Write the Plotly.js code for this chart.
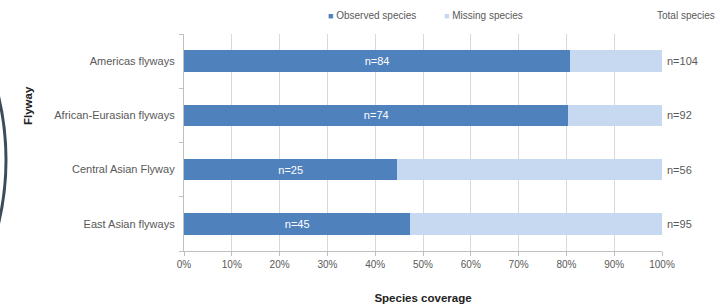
<!DOCTYPE html>
<html>
<head>
<meta charset="utf-8">
<script src="https://cdn.plot.ly/plotly-3.0.1.min.js"></script>
<style>html,body{margin:0;padding:0;background:#fff;}#chart{width:727px;height:304px;}</style>
</head>
<body>
<div id="chart"></div>
<script>
const flyways = ["Americas flyways", "African-Eurasian flyways", "Central Asian Flyway", "East Asian flyways"];
const observedCounts = [84, 74, 25, 45];
const totalCounts = [104, 92, 56, 95];
const xTickVals = [0, 10, 20, 30, 40, 50, 60, 70, 80, 90, 100];
const xTickText = ["0%", "10%", "20%", "30%", "40%", "50%", "60%", "70%", "80%", "90%", "100%"];
const seriesNames = ["Observed species", "Missing species"];
const seriesColors = ["#4F81BD", "#C6D9F1"];

const observedPct = observedCounts.map((v, i) => v / totalCounts[i] * 100);
const missingPct = observedPct.map(v => 100 - v);

const FONT = "Liberation Sans, Arial, sans-serif";
const GREY = "#595959";

// plot area in pixels
const L = 184, R = 662, T = 34, B = 251;
const px2x = p => (p - L) / (R - L);
const px2y = p => (B - p) / (B - T);

const traces = [
  {
    type: "bar", orientation: "h", name: seriesNames[0],
    y: flyways, x: observedPct,
    marker: {color: seriesColors[0]},
    text: observedCounts.map(v => "n=" + v),
    textposition: "inside", insidetextanchor: "middle",
    textfont: {color: "#ffffff", size: 11, family: FONT},
    hoverinfo: "skip"
  },
  {
    type: "bar", orientation: "h", name: seriesNames[1],
    y: flyways, x: missingPct,
    marker: {color: seriesColors[1]},
    hoverinfo: "skip"
  }
];

const annotations = totalCounts.map((t, i) => ({
  xref: "paper", yref: "y", x: 1, y: flyways[i],
  xanchor: "left", xshift: 3, text: "n=" + t, showarrow: false,
  font: {size: 11, color: GREY, family: FONT}
}));
// legend (custom, small square markers)
const legendX = [326, 442];
seriesNames.forEach((n, i) => annotations.push({
  xref: "paper", yref: "paper", x: px2x(legendX[i]), y: px2y(15), xanchor: "left", yanchor: "middle",
  text: "<span style='color:" + seriesColors[i] + ";font-size:9px'>■</span> " + n,
  showarrow: false, font: {size: 10, color: GREY, family: FONT}
}));
annotations.push({
  xref: "paper", yref: "paper", x: px2x(655), y: px2y(15), xanchor: "left", yanchor: "middle",
  text: "Total species", showarrow: false, font: {size: 10, color: GREY, family: FONT}
});
annotations.push({
  xref: "paper", yref: "paper", x: px2x(28), y: px2y(106), xanchor: "center", yanchor: "middle",
  text: "<b>Flyway</b>", textangle: -90, showarrow: false, font: {size: 11.5, color: "#222", family: FONT}
});

const layout = {
  width: 727, height: 304,
  margin: {l: L, r: 727 - R, t: T, b: 304 - B},
  paper_bgcolor: "#fff", plot_bgcolor: "#fff",
  barmode: "stack", bargap: 0.6,
  font: {family: FONT, size: 10, color: GREY},
  showlegend: false,
  xaxis: {
    range: [0, 100], tickvals: xTickVals, ticktext: xTickText,
    showgrid: true, gridcolor: "#d9d9d9", gridwidth: 1,
    showline: true, linecolor: "#bfbfbf", ticks: "outside", ticklen: 4, tickcolor: "#bfbfbf",
    zeroline: false, tickfont: {size: 10, color: GREY, family: FONT},
    title: {text: "<b>Species coverage</b>", font: {size: 11.5, color: "#222", family: FONT}, standoff: 24}
  },
  yaxis: {
    categoryorder: "array", categoryarray: flyways.slice().reverse(),
    showline: true, linecolor: "#bfbfbf", ticks: "outside", ticklen: 4, tickcolor: "#bfbfbf",
    tickson: "boundaries", showgrid: false, zeroline: false,
    tickfont: {size: 11, color: GREY, family: FONT}, ticksuffix: "  "
  },
  shapes: [{
    type: "circle", xref: "paper", yref: "paper",
    x0: px2x(-542), x1: px2x(6),
    y0: px2y(434), y1: px2y(-114),
    line: {color: "#3d4c5b", width: 3}, fillcolor: "rgba(0,0,0,0)", layer: "above"
  }],
  annotations: annotations
};

Plotly.newPlot("chart", traces, layout, {displayModeBar: false, staticPlot: true});
</script>
</body>
</html>
